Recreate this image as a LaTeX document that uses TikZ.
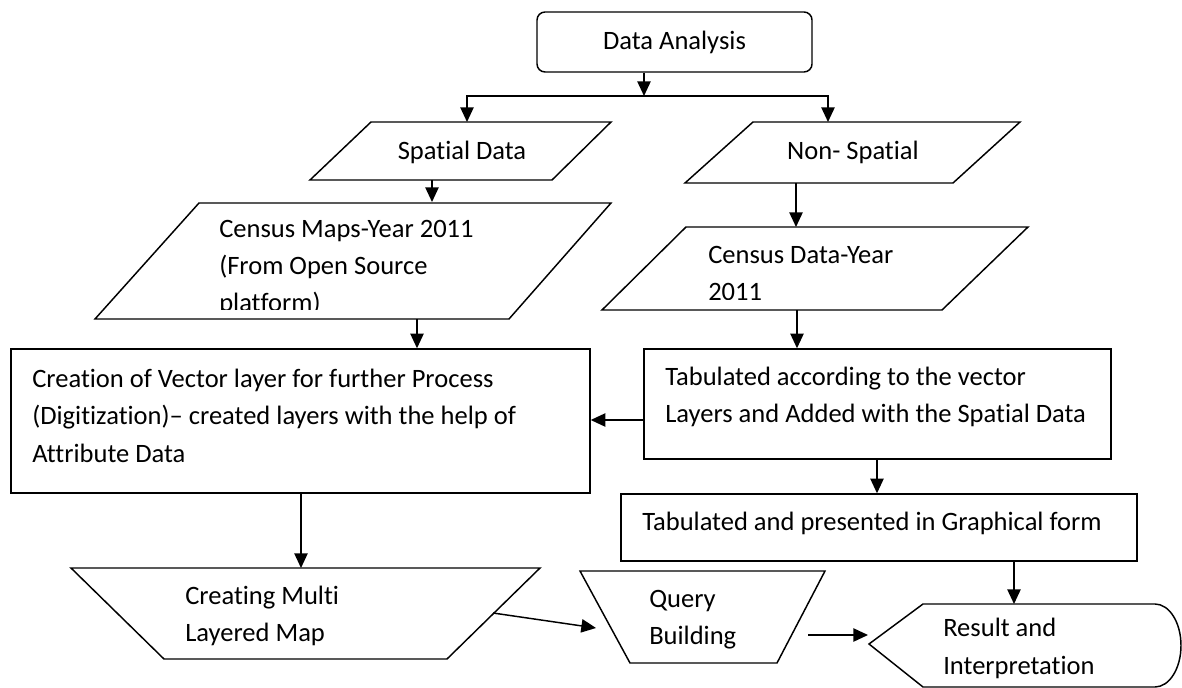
\documentclass[tikz,border=0pt]{standalone}
\usepackage{fontspec}
\setmainfont{Carlito}[Ligatures=NoCommon]
\usetikzlibrary{arrows.meta}
\begin{document}
\begin{tikzpicture}[x=0.75pt,y=-0.75pt,
  outline/.style={draw=black, line width=1.1pt, line join=miter},
  box/.style={outline, rectangle, inner sep=0pt},
  arr/.style={draw=black, line width=1.1pt, -{Triangle[length=11pt,width=10pt]}},
  txt/.style={font=\fontsize{19.9}{28.1}\selectfont, inner sep=0pt},
  ltxt/.style={txt, align=left, anchor=west}]

\useasboundingbox (0,0) rectangle (1182,688);

% ---- rectangular steps ----
\node[box, rounded corners=6pt, minimum width=206.25pt, minimum height=45pt, txt] (da) at (674.5,42) {Data Analysis};
\node[box, minimum width=434.25pt, minimum height=108pt] (cr) at (300.5,421) {};
\node[box, minimum width=350.25pt, minimum height=82.5pt] (tb) at (877.5,404) {};
\node[box, minimum width=387pt, minimum height=50.25pt] (gr) at (879,527.5) {};

% ---- slanted input shapes ----
\draw[outline] (371,122) -- (611,122) -- (552,180) -- (310,180) -- cycle;
\draw[outline] (753,122) -- (1020,122) -- (953,183) -- (685,183) -- cycle;
\draw[outline] (199,203) -- (611,203) -- (509,319) -- (95,319) -- cycle;
\draw[outline] (686,227) -- (1028,227) -- (942,310) -- (602,310) -- cycle;

% ---- manual operation shapes ----
\draw[outline] (71,568) -- (540,568) -- (447,659) -- (164,659) -- cycle;
\draw[outline] (580,571) -- (825,571) -- (777,663) -- (630,663) -- cycle;

% ---- display shape ----
\draw[outline] (923,604) -- (1155,604)
  arc[start angle=90, end angle=-90, x radius=19.5pt, y radius=31.125pt]
  -- (923,687) -- (869,644) -- cycle;

% ---- texts ----
\node[txt] (sd) at (462,152) {Spatial Data};
\node[txt] (ns) at (853,152) {Non- Spatial};
\begin{scope}
  \clip (0,190) rectangle (700,309);
  \node[ltxt] (cm) at (219,268) {Census Maps-Year 2011\\(From Open Source\\platform)};
\end{scope}
\begin{scope}
  \clip (640,230) rectangle (1000,299);
  \node[ltxt] (cd) at (708,273.5) {Census Data-Year\\2011};
\end{scope}
\node[ltxt] (crt) at (32,415.5) {Creation of Vector layer for further Process\\(Digitization)– created layers with the help of\\Attribute Data};
\node[ltxt] (tbt) at (665,397) {Tabulated according to the vector\\Layers and Added with the Spatial Data};
\node[ltxt] (grt) at (642,523) {Tabulated and presented in Graphical form};
\node[ltxt] (mm) at (185,616) {Creating Multi\\Layered Map};
\node[ltxt] (qb) at (649,619.5) {Query\\Building};
\node[ltxt] (rs) at (943,648.5) {Result and\\Interpretation};

% ---- connection points ----
\coordinate (split) at (644,96);
\coordinate (sd-in) at (467,122);
\coordinate (ns-in) at (828,122);
\coordinate (sd-out) at (432,180);
\coordinate (cm-in) at (432,202);
\coordinate (cm-out) at (417,319);
\coordinate (ns-out) at (796,183);
\coordinate (cd-in) at (796,227);
\coordinate (cd-out) at (797,310);
\coordinate (lnk) at (617,420);
\coordinate (tg) at (877,480);
\coordinate (mm-in) at (301,568);
\coordinate (rs-in) at (1014,604);
\coordinate (mm-out) at (493,613);
\coordinate (qb-in) at (596,628);
\coordinate (qb-out) at (808,635);
\coordinate (rs-tip) at (868,635);

% ---- connectors ----
\draw[arr] (da.south -| split) -- (split);
\draw[arr] (split) -| (sd-in);
\draw[arr] (split) -| (ns-in);
\draw[arr] (sd-out) -- (cm-in);
\draw[arr] (cm-out) -- (cr.north -| cm-out);
\draw[arr] (ns-out) -- (cd-in);
\draw[arr] (cd-out) -- (tb.north -| cd-out);
\draw[arr] (tb.west |- lnk) -- (cr.east |- lnk);
\draw[arr] (tb.south -| tg) -- (gr.north -| tg);
\draw[arr] (cr.south -| mm-in) -- (mm-in);
\draw[arr] (gr.south -| rs-in) -- (rs-in);
\draw[arr] (mm-out) -- (qb-in);
\draw[arr] (qb-out) -- (rs-tip);
\end{tikzpicture}
\end{document}
